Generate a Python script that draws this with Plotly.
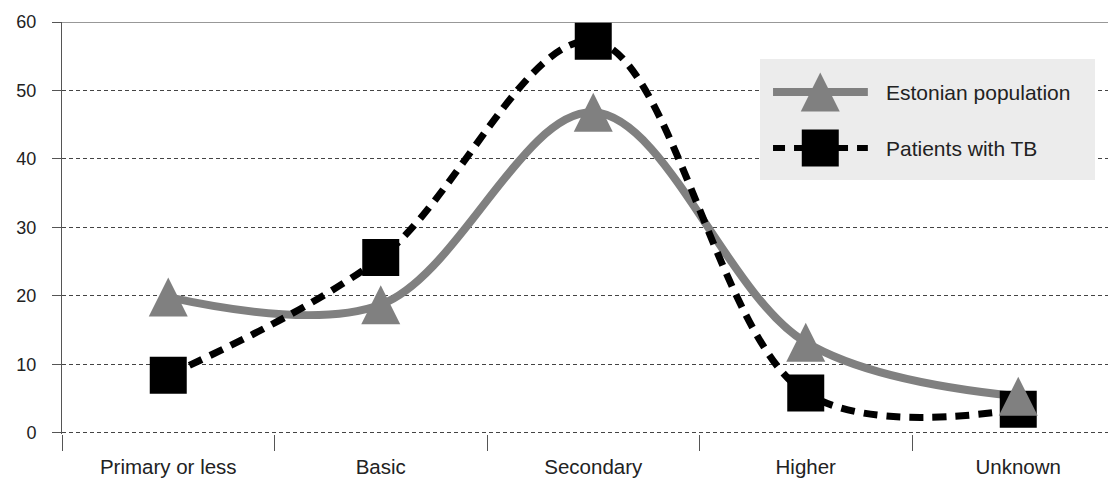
import plotly.graph_objects as go

categories = ["Primary or less", "Basic", "Secondary", "Higher", "Unknown"]
estonian_population = [19.8, 18.7, 46.8, 13.2, 5.3]
patients_tb = [8.4, 25.6, 57.2, 5.8, 3.4]
y_ticks = [0, 10, 20, 30, 40, 50, 60]
series_names = ["Estonian population", "Patients with TB"]

GRAY = "#808080"
FONT = "Liberation Sans, Arial, sans-serif"
TRI = dict(symbol="arrow-down", angle=180, size=39, standoff=19.5, color=GRAY, line=dict(width=0))
SQ = dict(symbol="square", size=37, color="black", line=dict(width=0))

fig = go.Figure()

fig.add_trace(go.Scatter(
    x=categories, y=estonian_population, mode="lines",
    line=dict(color=GRAY, width=8, shape="spline", smoothing=1),
    showlegend=False, name=series_names[0]))
fig.add_trace(go.Scatter(
    x=categories, y=patients_tb, mode="lines",
    line=dict(color="black", width=7, dash="14px,9px", shape="spline", smoothing=1),
    showlegend=False, name=series_names[1]))
fig.add_trace(go.Scatter(
    x=categories, y=patients_tb, mode="markers", marker=SQ,
    showlegend=False, name=series_names[1]))
fig.add_trace(go.Scatter(
    x=categories, y=estonian_population, mode="markers", marker=TRI,
    showlegend=False, name=series_names[0]))

# custom legend on an inset axis: background box first
fig.add_trace(go.Scatter(
    x=[0, 1, 1, 0, 0], y=[0, 0, 1, 1, 0], xaxis="x2", yaxis="y2",
    mode="lines", fill="toself", fillcolor="#ececec", line=dict(width=0, color="#ececec"),
    showlegend=False, hoverinfo="skip"))

leg_line_x = [0.039, 0.322]
leg_mark_x = [0.18]
leg_y = [0.727, 0.264]
fig.add_trace(go.Scatter(
    x=leg_line_x, y=[leg_y[0]] * 2, xaxis="x2", yaxis="y2", mode="lines",
    line=dict(color=GRAY, width=8), showlegend=False, hoverinfo="skip"))
fig.add_trace(go.Scatter(
    x=leg_mark_x, y=[leg_y[0]], xaxis="x2", yaxis="y2", mode="markers",
    marker=TRI, showlegend=False, hoverinfo="skip"))
fig.add_trace(go.Scatter(
    x=leg_line_x, y=[leg_y[1]] * 2, xaxis="x2", yaxis="y2", mode="lines",
    line=dict(color="black", width=6, dash="12px,9px"), showlegend=False, hoverinfo="skip"))
fig.add_trace(go.Scatter(
    x=leg_mark_x, y=[leg_y[1]], xaxis="x2", yaxis="y2", mode="markers",
    marker=SQ, showlegend=False, hoverinfo="skip"))

for name, yy in zip(series_names, leg_y):
    fig.add_annotation(x=0.37, y=yy, xref="x2", yref="y2", text=name,
                       showarrow=False, xanchor="left", yanchor="middle",
                       font=dict(family=FONT, size=21, color="#222222"))

# top border line at 60
fig.add_shape(type="line", xref="paper", yref="y", x0=0, x1=1, y0=60, y1=60,
              line=dict(color="#333333", width=1))

fig.update_layout(
    width=1108, height=471,
    margin=dict(l=54, r=0, t=14, b=45, autoexpand=False),
    paper_bgcolor="white", plot_bgcolor="white",
    font=dict(family=FONT, color="#222222"),
    xaxis=dict(type="category", categoryorder="array", categoryarray=categories,
               range=[-0.5, 4.46], tickson="boundaries", ticks="outside",
               ticklen=16, tickcolor="#555555", tickwidth=1,
               showgrid=False, showline=False, zeroline=False, automargin=False,
               tickfont=dict(size=20.5, family=FONT, color="#222222"),
               ticklabelstandoff=18),
    yaxis=dict(range=[-0.2, 60], tickvals=y_ticks, ticks="outside", ticklen=9,
               tickcolor="#555555", tickwidth=1, showline=True,
               linecolor="#555555", linewidth=1, zeroline=False, automargin=False,
               showgrid=True, gridcolor="#444444", gridwidth=1, griddash="4px,3px",
               tickfont=dict(size=18, family=FONT, color="#222222"),
               ticklabelstandoff=12),
    xaxis2=dict(domain=[0.6622, 0.9801], range=[0, 1], visible=False,
                anchor="y2", fixedrange=True),
    yaxis2=dict(domain=[0.6165, 0.910], range=[0, 1], visible=False,
                anchor="x2", fixedrange=True),
)

fig.write_html("out.html")
